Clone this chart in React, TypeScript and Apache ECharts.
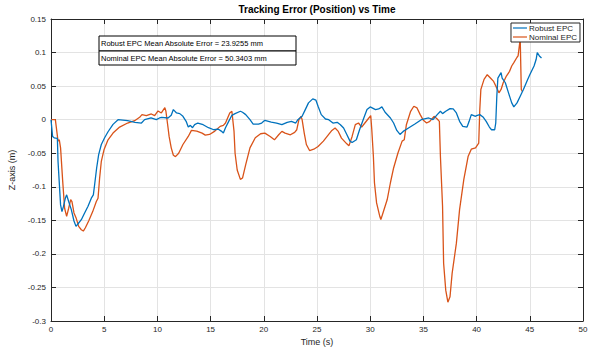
import React, { useEffect, useRef } from "react";
import * as echarts from "echarts";

// Robust EPC tracking error (z-axis, m) over time (s)
const robustTime = [
  0, 0.15, 0.3, 0.6, 0.66, 0.9, 1.03, 1.16, 1.35, 1.47, 1.66, 1.91, 2.16, 2.35, 2.6, 2.85,
  3.16, 3.48, 3.79, 3.98, 4.1, 4.29, 4.48, 4.73, 5.04, 5.36, 5.83, 6.3, 7.2, 7.9, 8.5, 8.8,
  9.4, 9.9, 10.2, 10.4, 11.0, 11.3, 11.5, 11.8, 12.1, 12.4, 12.7, 12.9, 13.1, 13.3, 13.5,
  13.8, 14.3, 14.8, 15.3, 15.7, 16.0, 16.2, 16.4, 16.7, 17.0, 17.3, 17.8, 18.0, 18.3, 18.7,
  19.0, 19.5, 19.8, 20.1, 20.7, 21.2, 21.7, 22.2, 22.6, 23.0, 23.2, 23.6, 23.9, 24.2, 24.6,
  24.9, 25.1, 25.4, 25.8, 26.1, 26.5, 26.9, 27.2, 27.5, 27.8, 28.1, 28.3, 28.7, 29.0, 29.4,
  29.7, 30.0, 30.5, 30.8, 31.1, 31.4, 31.9, 32.2, 32.5, 32.8, 33.1, 33.6, 34.2, 34.8, 35.5,
  35.9, 36.3, 36.6, 36.8, 37.1, 37.5, 37.8, 38.1, 38.4, 38.7, 39.1, 39.3, 39.5, 39.9, 40.0,
  40.3, 40.6, 40.9, 41.2, 41.4, 41.7, 41.8, 41.9, 42.0, 42.3, 42.4, 42.7, 43.0, 43.3, 43.5,
  43.8, 44.1, 44.4, 44.8, 45.0, 45.4, 45.6, 45.7, 45.9, 46.1,
];
const robustZ = [
  0, -0.025, -0.027, -0.028, -0.062, -0.127, -0.137, -0.13, -0.117, -0.112, -0.122, -0.134,
  -0.151, -0.159, -0.154, -0.149, -0.139, -0.129, -0.117, -0.112, -0.097, -0.072, -0.052,
  -0.037, -0.027, -0.018, -0.007, 0, -0.0015, -0.004, -0.005, 0, 0.0025, 0, 0.0025, 0.0035,
  0.0025, 0.0065, 0.015, 0.01, 0.009, 0.005, -0.0025, -0.011, -0.0085, -0.012, -0.0075,
  -0.005, -0.0075, -0.012, -0.015, -0.014, -0.017, -0.02, -0.012, -0.0025, 0.0065, 0.009,
  0.0125, 0.011, 0.0075, 0, -0.0065, -0.0065, -0.005, -0.001, -0.0035, -0.005, -0.0075,
  -0.004, -0.0025, -0.005, 0, 0.005, 0.015, 0.025, 0.031, 0.029, 0.02, 0.0075, 0.001, 0,
  -0.005, -0.004, -0.0075, -0.0125, -0.022, -0.032, -0.034, -0.03, -0.015, 0.0025, 0.015,
  0.019, 0.015, 0.016, 0.019, 0.011, 0.0025, -0.005, -0.016, -0.022, -0.0175, -0.0125,
  -0.0065, 0, 0.0025, 0, 0.0075, 0.0125, 0.009, 0.0125, 0.0165, 0.016, 0.01, -0.0025, -0.01,
  -0.011, -0.0025, 0.0075, 0.005, 0.006, 0.0075, 0.004, -0.0025, -0.011, -0.015, -0.015,
  -0.005, 0.035, 0.062, 0.07, 0.062, 0.055, 0.04, 0.025, 0.019, 0.025, 0.035, 0.045, 0.06,
  0.067, 0.08, 0.09, 0.1, 0.095, 0.092,
];

// Nominal EPC tracking error (z-axis, m) over time (s)
const nominalTime = [
  0, 0.41, 0.66, 0.78, 0.9, 1.1, 1.28, 1.47, 1.66, 1.85, 1.97, 2.16, 2.35, 2.6, 2.85, 3.04,
  3.23, 3.54, 3.92, 4.26, 4.42, 4.57, 4.73, 4.98, 5.36, 5.83, 6.45, 7.2, 7.86, 8.33, 8.55,
  8.96, 9.43, 9.74, 10.06, 10.37, 10.7, 10.8, 11.0, 11.1, 11.3, 11.5, 11.7, 12.0, 12.4, 12.9,
  13.2, 13.7, 14.2, 14.5, 14.9, 15.4, 15.9, 16.2, 16.4, 16.6, 16.8, 17.0, 17.2, 17.3, 17.5,
  17.8, 18.0, 18.3, 18.7, 19.2, 19.7, 20.1, 20.6, 21.0, 21.4, 21.7, 22.0, 22.5, 22.9, 23.1,
  23.3, 23.5, 23.6, 23.8, 24.0, 24.3, 24.7, 25.1, 25.6, 26.1, 26.4, 26.7, 27.0, 27.3, 27.8,
  28.0, 28.3, 28.6, 28.9, 29.2, 29.5, 29.8, 30.05, 30.15, 30.3, 30.4, 30.6, 30.9, 31.0,
  31.2, 31.6, 31.9, 32.2, 32.6, 33.0, 33.2, 33.4, 33.8, 34.1, 34.4, 34.7, 35.0, 35.3, 35.6,
  36.0, 36.3, 36.5, 36.6, 36.8, 36.9, 37.1, 37.3, 37.5, 37.7, 38.1, 38.4, 38.8, 39.2, 39.5,
  39.9, 40.2, 40.3, 40.4, 40.5, 40.7, 41.0, 41.3, 41.6, 41.9, 42.1, 42.3, 42.5, 42.8, 43.1,
  43.3, 43.5, 43.8, 43.9, 44.05, 44.1, 44.2, 44.3,
];
const nominalZ = [
  0, 0, -0.032, -0.03, -0.042, -0.092, -0.132, -0.144, -0.132, -0.119, -0.122, -0.139, -0.146,
  -0.159, -0.164, -0.166, -0.161, -0.151, -0.137, -0.122, -0.117, -0.087, -0.062, -0.045,
  -0.03, -0.02, -0.011, -0.005, -0.0015, 0.0035, 0.0075, 0.006, 0.0085, 0.006, 0.013, 0.01,
  0.018, 0.0125, -0.012, -0.025, -0.042, -0.053, -0.055, -0.05, -0.037, -0.025, -0.016,
  -0.017, -0.02, -0.023, -0.022, -0.017, -0.01, -0.0085, -0.005, 0.0025, 0.01, 0.0125,
  -0.017, -0.05, -0.075, -0.089, -0.087, -0.067, -0.042, -0.027, -0.021, -0.02, -0.025,
  -0.03, -0.0225, -0.0175, -0.02, -0.0225, -0.019, -0.015, 0, 0.005, 0, -0.02, -0.037,
  -0.046, -0.044, -0.04, -0.032, -0.022, -0.016, -0.0125, -0.0175, -0.0275, -0.036, -0.039,
  -0.025, -0.0075, -0.005, -0.011, -0.005, 0.001, 0.006, -0.015, -0.055, -0.094, -0.124,
  -0.144, -0.149, -0.139, -0.119, -0.094, -0.072, -0.05, -0.032, -0.03, -0.0075, 0.0125,
  0.02, 0.0175, 0.0075, -0.001, -0.005, -0.0025, 0.005, 0.001, -0.0025, -0.055, -0.129,
  -0.214, -0.254, -0.272, -0.264, -0.229, -0.184, -0.134, -0.089, -0.055, -0.044, -0.042,
  -0.035, 0.015, 0.045, 0.05, 0.06, 0.067, 0.062, 0.057, 0.047, 0.04, 0.045, 0.055, 0.065,
  0.072, 0.08, 0.085, 0.093, 0.095, 0.114, 0.12, 0.045, 0.042,
];

const robustMAE = "23.9255";
const nominalMAE = "50.3403";

const BLUE = "#0072BD";
const ORANGE = "#D95319";
const AXIS = "#262626";
const GRID_LINE = "#e3e3e3";
const FONT = "Liberation Sans, Arial, sans-serif";

const pairs = (xs: number[], ys: number[]) => xs.map((x, i) => [x, ys[i]]);

const fmt = (v: number) => String(parseFloat(v.toFixed(4)));

export default function App() {
  const ref = useRef<HTMLDivElement>(null);

  useEffect(() => {
    document.body.style.margin = "0";
    if (!ref.current) return;
    const chart = echarts.init(ref.current, undefined, { renderer: "svg" });

    const plotLeft = 51;
    const plotRight = 7;
    const plotTop = 19;
    const plotBottom = 27;
    const plotCenterX = plotLeft + (590 - plotLeft - plotRight) / 2;

    // top and right frame edges with inward ticks, no labels
    const frameAxis = {
      axisLine: { show: true, onZero: false, lineStyle: { color: AXIS, width: 1 } },
      axisTick: { show: true, inside: true, length: 5, lineStyle: { color: AXIS } },
      axisLabel: { show: false },
      splitLine: { show: false },
    };

    chart.setOption({
      animation: false,
      backgroundColor: "#ffffff",
      textStyle: { fontFamily: FONT },
      grid: {
        left: plotLeft,
        right: plotRight,
        top: plotTop,
        bottom: plotBottom,
        containLabel: false,
        outerBoundsMode: "none",
      },
      legend: {
        data: ["Robust EPC", "Nominal EPC"],
        orient: "vertical",
        right: 10,
        top: 23,
        backgroundColor: "#ffffff",
        borderColor: AXIS,
        borderWidth: 1,
        borderRadius: 0,
        padding: [1, 3, 1, 2],
        itemGap: 1,
        itemWidth: 14,
        itemHeight: 9,
        icon: "path://M0,4 L14,4 L14,5.2 L0,5.2 Z",
        textStyle: { fontSize: 8, color: AXIS, fontFamily: FONT, padding: [0, 0, 0, -3] },
      },
      xAxis: [
        {
          type: "value",
          min: 0,
          max: 50,
          interval: 5,
          name: "Time (s)",
          nameLocation: "middle",
          nameGap: 14,
          nameTextStyle: { fontSize: 9, color: AXIS, fontFamily: FONT },
          axisLine: { show: true, onZero: false, lineStyle: { color: AXIS, width: 1 } },
          axisTick: { show: true, inside: true, length: 5, lineStyle: { color: AXIS } },
          axisLabel: { fontSize: 8, color: AXIS, margin: 4, fontFamily: FONT },
          splitLine: { show: true, lineStyle: { color: GRID_LINE, width: 1 } },
        },
        {
          type: "value",
          position: "top",
          min: 0,
          max: 50,
          interval: 5,
          ...frameAxis,
        },
      ],
      yAxis: [
        {
          type: "value",
          min: -0.3,
          max: 0.15,
          interval: 0.05,
          name: "Z-axis (m)",
          nameLocation: "middle",
          nameGap: 29,
          nameTextStyle: { fontSize: 9, color: AXIS, fontFamily: FONT },
          axisLine: { show: true, onZero: false, lineStyle: { color: AXIS, width: 1 } },
          axisTick: { show: true, inside: true, length: 5, lineStyle: { color: AXIS } },
          axisLabel: { fontSize: 8, color: AXIS, margin: 5, fontFamily: FONT, formatter: fmt },
          splitLine: { show: true, lineStyle: { color: GRID_LINE, width: 1 } },
        },
        {
          type: "value",
          position: "right",
          min: -0.3,
          max: 0.15,
          interval: 0.05,
          ...frameAxis,
        },
      ],
      series: [
        {
          name: "Robust EPC",
          type: "line",
          data: pairs(robustTime, robustZ),
          showSymbol: false,
          symbol: "none",
          color: BLUE,
          lineStyle: { color: BLUE, width: 1.3 },
          z: 3,
        },
        {
          name: "Nominal EPC",
          type: "line",
          data: pairs(nominalTime, nominalZ),
          showSymbol: false,
          symbol: "none",
          color: ORANGE,
          lineStyle: { color: ORANGE, width: 1.3 },
          z: 2,
        },
      ],
      graphic: [
        {
          type: "text",
          x: plotCenterX,
          y: 4,
          z: 100,
          style: {
            text: "Tracking Error (Position) vs Time",
            font: `bold 10px ${FONT}`,
            fill: "#000000",
            textAlign: "center",
          },
        },
        {
          type: "group",
          x: 99,
          y: 36,
          z: 100,
          children: [
            {
              type: "rect",
              z: 100,
              shape: { x: 0, y: 0, width: 197, height: 15 },
              style: { fill: "#ffffff", stroke: "#000000", lineWidth: 1 },
            },
            {
              type: "text",
              z: 101,
              x: 2,
              y: 3.5,
              style: {
                text: `Robust EPC Mean Absolute Error = ${robustMAE} mm`,
                font: `7.5px ${FONT}`,
                fill: "#000000",
              },
            },
            {
              type: "rect",
              z: 100,
              shape: { x: 0, y: 15, width: 197, height: 14 },
              style: { fill: "#ffffff", stroke: "#000000", lineWidth: 1 },
            },
            {
              type: "text",
              z: 101,
              x: 2,
              y: 18,
              style: {
                text: `Nominal EPC Mean Absolute Error = ${nominalMAE} mm`,
                font: `7.5px ${FONT}`,
                fill: "#000000",
              },
            },
          ],
        },
      ],
    });

    return () => chart.dispose();
  }, []);

  return <div ref={ref} style={{ width: 590, height: 348 }} />;
}
